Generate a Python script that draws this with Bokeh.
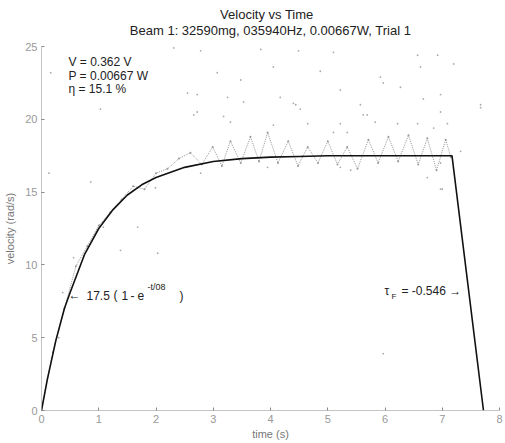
from bokeh.plotting import figure
from bokeh.models import Label, Range1d, Title
from bokeh.embed import file_html
from bokeh.resources import INLINE

# fit curve
fit_t = [0, 0.1, 0.25, 0.4, 0.5, 0.75, 1.0, 1.25, 1.5, 1.75, 2.0, 2.5, 3.0, 3.5, 4.0, 4.5, 5.0, 6.0, 7.17, 7.72]
fit_v = [0, 2.1, 4.8, 7.0, 8.1, 10.7, 12.5, 13.8, 14.8, 15.5, 16.0, 16.7, 17.1, 17.3, 17.4, 17.45, 17.5, 17.5, 17.5, 0]

# measured velocity trace (wavy)
meas_t = [0, 0.2, 0.4, 0.6, 0.8, 1.0, 1.2, 1.4, 1.6, 1.8, 2.0, 2.2, 2.4, 2.6, 2.8, 2.99, 3.15, 3.30, 3.48,
          3.65, 3.80, 3.95, 4.13, 4.31, 4.48, 4.65, 4.83, 5.0, 5.17, 5.34, 5.52, 5.71, 5.88, 6.06, 6.23,
          6.41, 6.58, 6.74, 6.90, 7.06, 7.15]
meas_v = [0, 4.0, 7.0, 9.9, 11.3, 12.7, 13.6, 14.5, 15.4, 15.2, 16.3, 16.6, 17.3, 17.7, 16.9, 18.1, 16.8,
          18.5, 17.0, 18.8, 17.1, 19.1, 17.0, 18.5, 16.8, 18.1, 17.0, 18.5, 16.9, 18.1, 16.6, 18.6, 17.0,
          18.8, 17.1, 18.9, 16.9, 18.7, 16.5, 18.6, 17.4]

# scattered samples
scat_t = [2.31, 2.78, 3.83, 4.49, 5.10, 6.57, 6.92, 4.05, 4.87, 5.92, 6.62, 7.20, 3.07, 3.48, 2.72, 2.55,
          3.25, 3.53, 4.17, 4.40, 5.22, 5.57, 5.97, 6.27, 6.67, 6.97, 7.67, 6.97, 1.03, 0.16, 2.72, 4.52,
          5.62, 2.66, 3.18, 3.30, 4.05, 4.44, 4.65, 5.10, 5.22, 2.78, 3.95, 5.22, 5.69, 5.83, 6.22, 6.57,
          6.85, 7.09, 7.32, 7.67, 6.97, 6.97, 6.74, 5.40, 5.34, 7.00, 5.97, 0.86, 0.56, 0.30, 0.37, 2.03,
          1.38, 1.99, 1.08, 1.68, 0.13]
scat_v = [24.9, 24.7, 24.8, 24.7, 24.6, 24.4, 24.4, 23.6, 23.3, 22.9, 23.6, 23.8, 23.2, 22.7, 21.7, 21.8,
          21.5, 21.2, 21.5, 21.1, 22.0, 21.0, 22.5, 22.2, 21.4, 21.7, 20.8, 20.5, 20.7, 23.2, 20.5, 20.7,
          20.3, 20.3, 20.2, 19.8, 19.6, 21.0, 19.7, 19.1, 19.7, 16.3, 16.7, 16.7, 20.3, 19.8, 19.7, 19.7,
          19.4, 19.7, 17.8, 21.0, 17.0, 15.2, 16.0, 16.5, 19.1, 15.2, 3.9, 15.7, 10.5, 5.0, 8.1, 10.8,
          11.0, 15.3, 12.6, 12.6, 16.3]

x_ticks = [0, 1, 2, 3, 4, 5, 6, 7, 8]
y_ticks = [0, 5, 10, 15, 20, 25]

FONT = "Liberation Sans"

p = figure(width=505, height=443, output_backend="svg", toolbar_location=None,
           x_range=Range1d(0, 8), y_range=Range1d(0, 25),
           min_border_left=41, min_border_right=6, min_border_top=0, min_border_bottom=33)
p.outline_line_color = None
p.grid.visible = False
p.background_fill_color = "white"

pad = "\u00a0" * 25
p.add_layout(Title(text=pad + "Velocity vs Time\nBeam 1: 32590mg, 035940Hz, 0.00667W, Trial 1",
                   align="center", vertical_align="top",
                   text_font=FONT, text_font_size="13px", text_font_style="normal",
                   text_line_height=1.1,
                   text_color="#222222", standoff=12, offset=0), "above")

for ax in (p.xaxis[0], p.yaxis[0]):
    ax.axis_line_color = "#888888"
    ax.axis_line_dash = "1 1"
    ax.major_tick_in = 3
    ax.major_tick_out = 0
    ax.major_tick_line_color = "#888888"
    ax.minor_tick_line_color = None
    ax.major_label_text_color = "#999999"
    ax.major_label_text_font = FONT
    ax.major_label_text_font_size = "11px"
    ax.axis_label_text_font = FONT
    ax.axis_label_text_font_size = "11px"
    ax.axis_label_text_font_style = "normal"
    ax.axis_label_text_color = "#777777"
p.xaxis.ticker = x_ticks
p.yaxis.ticker = y_ticks
p.xaxis.axis_label = "time (s)"
p.yaxis.axis_label = "velocity (rad/s)"
p.xaxis.axis_label_standoff = 2
p.yaxis.axis_label_standoff = 6
p.xaxis.major_label_standoff = 4
p.yaxis.major_label_standoff = 4

p.scatter(scat_t, scat_v, size=1.8, color="#aaaaaa", line_color=None)
p.line(meas_t, meas_v, line_color="#999999", line_width=1, line_dash="1 1")
p.scatter(meas_t, meas_v, size=2, color="#999999", line_color=None)
p.line(fit_t, fit_v, line_color="#111111", line_width=1.6)

def px(x):
    return (x - 41) / 57.25

def py(y):
    return (410 - y) / 14.52

def lab(x, y, text, size="12px", align="left", color="#222222"):
    p.add_layout(Label(x=px(x), y=py(y), text=text, text_font=FONT, text_font_size=size,
                       text_align=align, text_baseline="middle", text_color=color))

lab(68, 62, "V = 0.362 V")
lab(68, 76, "P = 0.00667 W")
lab(68, 89, "\u03b7 = 15.1 %")

lab(68, 295, "\u2190")
lab(86, 295, "17.5")
lab(113, 295, "(")
lab(121, 295, "1")
lab(130, 295, "-")
lab(137, 295, "e")
lab(147, 287, "-t/08", size="9px")
lab(179, 296, ")")

lab(384, 291, "\u03c4")
lab(391, 296, "F", size="8px")
lab(401, 291, "= -0.546 \u2192")

open("out.html", "w").write(file_html(p, INLINE))
